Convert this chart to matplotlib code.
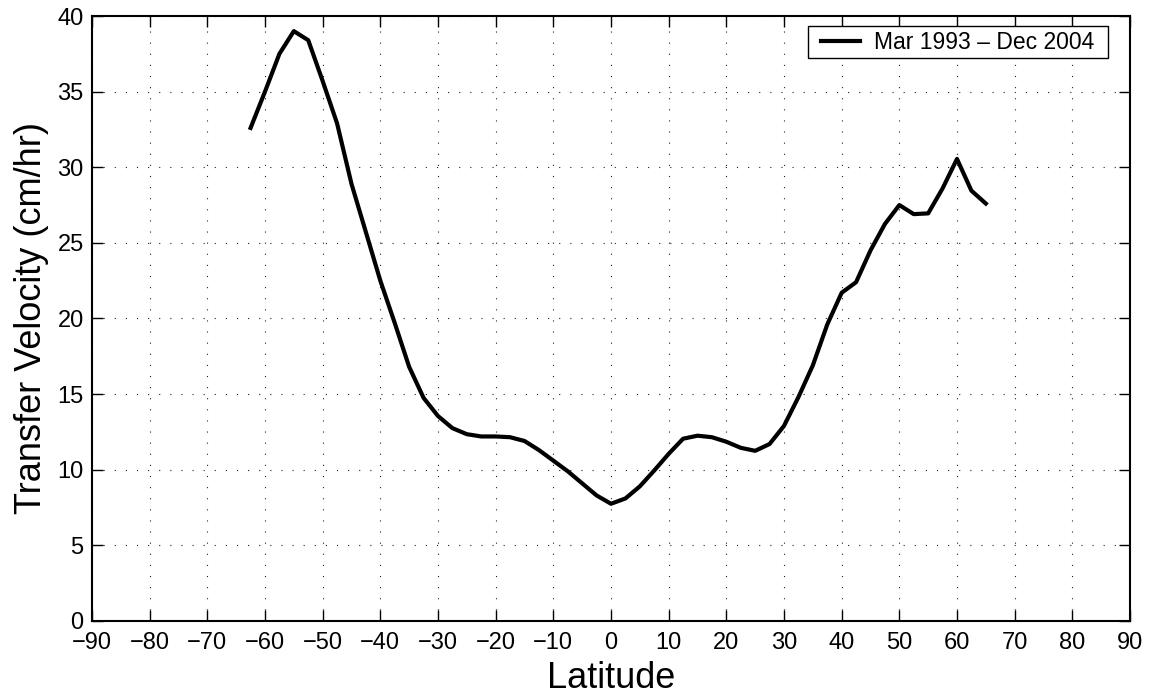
import numpy as np
import matplotlib
matplotlib.use('Agg')
import matplotlib.pyplot as plt
from matplotlib.path import Path

plt.rcParams['font.family'] = ['Liberation Sans', 'DejaVu Sans']

# latitude (deg) and transfer velocity (cm/hr)
lat = [-62.5, -60, -57.5, -55, -52.5, -50, -47.5, -45, -42.5, -40,
       -37.5, -35, -32.5, -30, -27.5, -25, -22.5, -20, -17.5, -15,
       -12.5, -10, -7.5, -5, -2.5, 0, 2.5, 5, 7.5, 10,
       12.5, 15, 17.5, 20, 22.5, 25, 27.5, 30, 32.5, 35,
       37.5, 40, 42.5, 45, 47.5, 50, 52.5, 55, 57.5, 60,
       62.5, 65]
kvel = [32.6, 35.0, 37.5, 39.0, 38.4, 35.7, 32.9, 28.9, 25.7, 22.5,
        19.7, 16.8, 14.75, 13.55, 12.75, 12.35, 12.2, 12.2, 12.15, 11.9,
        11.3, 10.6, 9.9, 9.1, 8.3, 7.75, 8.1, 8.9, 9.95, 11.05,
        12.05, 12.25, 12.15, 11.85, 11.45, 11.25, 11.7, 12.9, 14.8, 16.9,
        19.6, 21.7, 22.4, 24.5, 26.25, 27.5, 26.9, 26.95, 28.6, 30.55,
        28.45, 27.6]
legend_label = 'Mar 1993 \u2013 Dec 2004'


def wide_box(x0, y0, width, height, mutation_size):
    # legend frame with extra room left and right only
    dx = 0.4 * mutation_size
    x1 = x0 + width + dx
    x0 = x0 - dx
    y1 = y0 + height
    return Path([(x0, y0), (x1, y0), (x1, y1), (x0, y1), (x0, y0)], closed=True)


fig = plt.figure(figsize=(11.5, 6.96), dpi=100)
ax = fig.add_axes([0.08, 0.1078, 0.9026, 0.8692])

ax.plot(lat, kvel, color='black', linewidth=3.0, label=legend_label)

ax.set_xlim(-90, 90)
ax.set_ylim(0, 40)
ax.set_xticks(np.arange(-90, 91, 10))
ax.set_yticks(np.arange(0, 41, 5))
ax.grid(True, linestyle=(0, (1, 9)), color='#222222', linewidth=0.8)
ax.tick_params(direction='in', top=True, right=True, length=8, width=1,
               labelsize=17, pad=6)
ax.tick_params(axis='x', pad=8)
for s in ax.spines.values():
    s.set_linewidth(1.5)

ax.set_xlabel('Latitude', fontsize=26, labelpad=5)
ax.set_ylabel('Transfer Velocity (cm/hr)', fontsize=26, labelpad=6)

leg = ax.legend(loc='upper right', fontsize=16.5, fancybox=False,
                framealpha=1, edgecolor='black', handlelength=1.7,
                handletextpad=0.6, borderpad=0.2, borderaxespad=0,
                bbox_to_anchor=(1099 / 1150, 1 - 26 / 696),
                bbox_transform=fig.transFigure)
leg.get_frame().set_boxstyle(wide_box)
leg.get_frame().set_linewidth(1.0)

fig.savefig('out.png', dpi=100)
